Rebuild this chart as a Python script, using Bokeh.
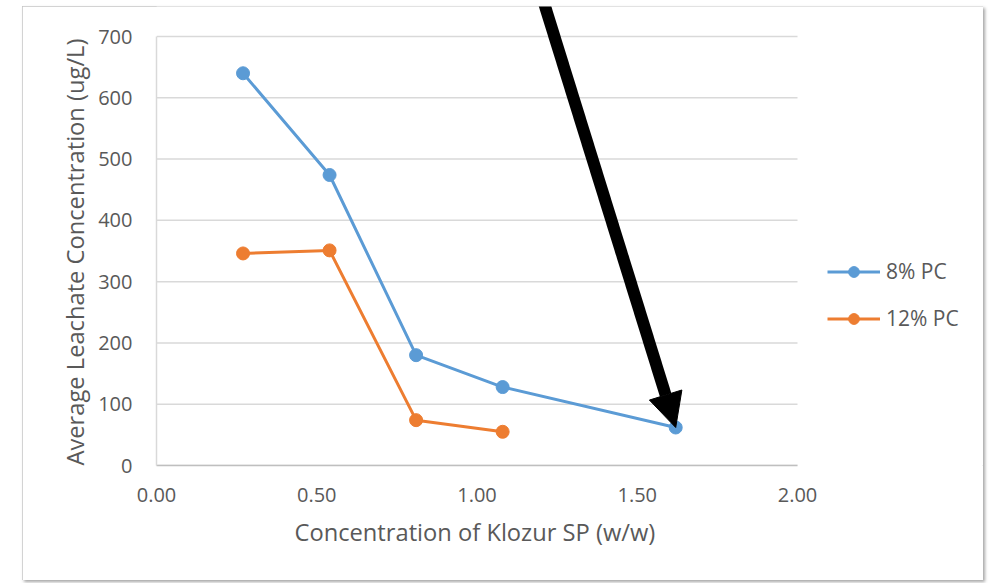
from bokeh.plotting import figure
from bokeh.models import Range1d, Legend, LegendItem, Arrow, NormalHead, FixedTicker, Title
from bokeh.embed import file_html
from bokeh.resources import INLINE

# ---- data ----
x_8pc = [0.27, 0.54, 0.81, 1.08, 1.62]
y_8pc = [640, 474, 180, 128, 62]
x_12pc = [0.27, 0.54, 0.81, 1.08]
y_12pc = [346, 351, 74, 55]
series_names = ["8% PC", "12% PC"]
x_ticks = [0.0, 0.5, 1.0, 1.5, 2.0]
y_ticks = [0, 100, 200, 300, 400, 500, 600, 700]
x_title = "Concentration of Klozur SP (w/w)"
y_title = "Average Leachate Concentration (ug/L)"

BLUE = "#5B9BD5"
ORANGE = "#ED7D31"
TXT = "#595959"
FONT = "Open Sans"

# layout (pixels): plot area of 641 x 429 px holds 0..2 x 0..700;
# the frame is stretched to the right/top edges so that the legend and the
# arrow (drawn outside the plotted area) are not clipped.
W, H = 961, 574
LEFT, BOTTOM = 134, 115
AREA_W, AREA_H = 641, 429
x_lo, x_hi = x_ticks[0], x_ticks[-1]
y_lo, y_hi = y_ticks[0], y_ticks[-1]
frame_w = W - LEFT
frame_h = H - BOTTOM
x_end = x_lo + (x_hi - x_lo) * frame_w / AREA_W
y_end = y_lo + (y_hi - y_lo) * frame_h / AREA_H

p = figure(width=W, height=H, output_backend="svg", toolbar_location=None,
           x_range=Range1d(x_lo, x_end), y_range=Range1d(y_lo, y_end),
           min_border_left=LEFT, min_border_right=0, min_border_top=0,
           min_border_bottom=BOTTOM, margin=(6, 0, 0, 22))
p.styles = {"outline": "1px solid #c4c4c4", "outline-offset": "-1px",
            "box-shadow": "2px 2px 3px rgba(0,0,0,0.35)"}

p.background_fill_color = "white"
p.border_fill_color = "white"
p.outline_line_color = None

p.xgrid.grid_line_color = None
p.ygrid.grid_line_color = None

# horizontal gridlines, limited to the plotted x span
p.segment(x0=[x_lo] * len(y_ticks), x1=[x_hi] * len(y_ticks), y0=y_ticks, y1=y_ticks,
          line_color="#d9d9d9", line_width=1.5)

p.xaxis.ticker = FixedTicker(ticks=x_ticks)
p.yaxis.ticker = FixedTicker(ticks=y_ticks)
p.xaxis.bounds = (x_lo, x_hi)
p.yaxis.bounds = (y_lo, y_hi)
p.xaxis.major_label_overrides = {t: f"{t:.2f}" for t in x_ticks}

for ax in (p.xaxis, p.yaxis):
    ax.major_tick_line_color = None
    ax.minor_tick_line_color = None
    ax.major_label_text_color = TXT
    ax.major_label_text_font = FONT
    ax.major_label_text_font_size = "20px"

p.xaxis.axis_line_color = "#bfbfbf"
p.xaxis.axis_line_width = 1.5
p.yaxis.axis_line_color = "#d9d9d9"
p.yaxis.axis_line_width = 1.5
p.xaxis.major_label_standoff = 16
p.yaxis.major_label_standoff = 18

# axis titles placed along the plotted area (not the stretched frame)
xt = Title(text=x_title, align="left", offset=138,
           text_font=FONT, text_font_size="23.7px", text_color=TXT,
           text_font_style="normal", standoff=19)
p.add_layout(xt, "below")
yt = Title(text=y_title, align="left", offset=0,
           text_font=FONT, text_font_size="23.7px", text_color=TXT,
           text_font_style="normal", standoff=10)
p.add_layout(yt, "left")

l1 = p.line(x_8pc, y_8pc, line_color=BLUE, line_width=3)
c1 = p.scatter(x_8pc, y_8pc, size=13, fill_color=BLUE, line_color=BLUE)
l2 = p.line(x_12pc, y_12pc, line_color=ORANGE, line_width=3)
c2 = p.scatter(x_12pc, y_12pc, size=13, fill_color=ORANGE, line_color=ORANGE)

legend = Legend(items=[LegendItem(label=series_names[0], renderers=[l1, c1]),
                       LegendItem(label=series_names[1], renderers=[l2, c2])],
                location=(671, 133), orientation="vertical")
legend.border_line_color = None
legend.background_fill_color = None
legend.background_fill_alpha = 0
legend.padding = 0
legend.margin = 0
legend.spacing = 19
legend.glyph_width = 53
legend.glyph_height = 27
legend.label_height = 27
legend.label_standoff = 6
legend.label_text_font = FONT
legend.label_text_font_size = "21px"
legend.label_text_color = TXT
p.add_layout(legend, "center")

# annotation arrow pointing at the last 8% PC point
arrow = Arrow(end=NormalHead(size=34, fill_color="black", line_color="black"),
              x_start=1.20, y_start=770, x_end=x_8pc[-1], y_end=y_8pc[-1],
              line_color="black", line_width=12)
p.add_layout(arrow)

open("out.html", "w").write(file_html(p, INLINE))
